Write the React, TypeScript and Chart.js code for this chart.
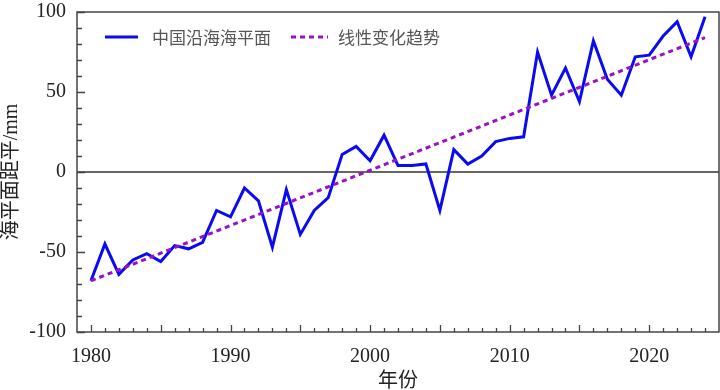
import React, { useEffect, useRef } from "react";
import { Chart, registerables } from "chart.js";

Chart.register(...registerables);

const years = [
  1980, 1981, 1982, 1983, 1984, 1985, 1986, 1987, 1988, 1989,
  1990, 1991, 1992, 1993, 1994, 1995, 1996, 1997, 1998, 1999,
  2000, 2001, 2002, 2003, 2004, 2005, 2006, 2007, 2008, 2009,
  2010, 2011, 2012, 2013, 2014, 2015, 2016, 2017, 2018, 2019,
  2020, 2021, 2022, 2023, 2024,
];
const seaLevel = [
  -68, -45, -64, -55, -51, -56, -46, -48, -44, -24,
  -28, -10, -18, -47, -11, -39, -24, -16, 11, 16,
  7, 23, 4, 4, 5, -24, 14, 5, 10, 19,
  21, 22, 75, 48, 65, 44, 82, 58, 48, 72,
  73, 85, 94, 72, 97,
];
const trendYears = [1980, 2024];
const trendValues = [-68, 84];
const xTickLabels = [1980, 1990, 2000, 2010, 2020];
const yTickLabels = [-100, -50, 0, 50, 100];

const seriesLabel = "中国沿海海平面";
const trendLabel = "线性变化趋势";
const blue = "#0b0bf0";
const purple = "#9a10c4";

const framePlugin = {
  id: "frame",
  beforeDatasetsDraw(chart: any) {
    const { ctx, chartArea } = chart;
    const { left, right, top, bottom } = chartArea;
    const xs = chart.scales.x;
    const ys = chart.scales.y;
    ctx.save();
    ctx.strokeStyle = "#333";
    ctx.lineWidth = 1.3;
    const y0 = ys.getPixelForValue(0);
    ctx.beginPath();
    ctx.moveTo(left, y0);
    ctx.lineTo(right, y0);
    ctx.stroke();
    ctx.strokeStyle = "#444";
    ctx.lineWidth = 1.5;
    ctx.strokeRect(left, top, right - left, bottom - top);
    ctx.lineWidth = 1.3;
    ctx.beginPath();
    years.forEach((yr) => {
      const px = Math.round(xs.getPixelForValue(yr)) + 0.5;
      const len = yr % 5 === 0 ? 7 : 4;
      ctx.moveTo(px, bottom);
      ctx.lineTo(px, bottom - len);
    });
    for (let v = -100; v <= 100; v += 10) {
      const py = Math.round(ys.getPixelForValue(v)) + 0.5;
      const len = v % 50 === 0 ? 8 : 5;
      ctx.moveTo(left, py);
      ctx.lineTo(left + len, py);
    }
    ctx.stroke();
    ctx.restore();
  },
  afterDraw(chart: any) {
    const { ctx, chartArea } = chart;
    const { left } = chartArea;
    const ds = chart.data.datasets;
    const ly = 37;
    ctx.save();
    ctx.lineWidth = 3;
    ctx.strokeStyle = ds[0].borderColor;
    ctx.beginPath();
    ctx.moveTo(left + 28, ly);
    ctx.lineTo(left + 61, ly);
    ctx.stroke();
    ctx.strokeStyle = ds[1].borderColor;
    ctx.setLineDash(ds[1].borderDash);
    ctx.beginPath();
    ctx.moveTo(left + 214, ly);
    ctx.lineTo(left + 251, ly);
    ctx.stroke();
    ctx.setLineDash([]);
    ctx.fillStyle = "#555";
    ctx.font = "17px 'Noto Sans CJK SC'";
    ctx.textBaseline = "middle";
    ctx.textAlign = "left";
    ctx.fillText(ds[0].label, left + 75, ly + 1);
    ctx.fillText(ds[1].label, left + 261, ly + 1);
    ctx.restore();
  },
};

export default function App() {
  const ref = useRef<HTMLCanvasElement>(null);
  useEffect(() => {
    if (!ref.current) return;
    const chart = new Chart(ref.current, {
      type: "line",
      data: {
        datasets: [
          {
            label: seriesLabel,
            data: seaLevel.map((v, i) => ({ x: years[i], y: v })),
            borderColor: blue,
            backgroundColor: blue,
            borderWidth: 3,
            pointRadius: 0,
            tension: 0,
            order: 1,
          },
          {
            label: trendLabel,
            data: trendValues.map((v, i) => ({ x: trendYears[i], y: v })),
            borderColor: purple,
            backgroundColor: purple,
            borderWidth: 3,
            borderDash: [5, 4],
            pointRadius: 0,
            tension: 0,
            order: 0,
          },
        ],
      },
      options: {
        animation: false,
        responsive: true,
        maintainAspectRatio: false,
        layout: { padding: { top: 12, right: 1, left: 0, bottom: 0 } },
        plugins: { legend: { display: false }, tooltip: { enabled: false } },
        scales: {
          x: {
            type: "linear",
            min: 1979,
            max: 2025,
            grid: { display: false, drawTicks: false },
            border: { display: false },
            afterBuildTicks: (s: any) => {
              s.ticks = xTickLabels.map((v) => ({ value: v }));
            },
            afterFit: (s: any) => {
              s.height = 58;
              s.paddingLeft = 0;
              s.paddingRight = 0;
              s.paddingTop = 0;
              s.paddingBottom = 0;
            },
            ticks: {
              padding: 13,
              maxRotation: 0,
              autoSkip: false,
              color: "#222",
              font: { family: "'Liberation Serif'", size: 20 },
              callback: (v: any) => String(v),
            },
            title: {
              display: true,
              text: "年份",
              color: "#222",
              padding: { top: 0, bottom: 0 },
              font: { family: "'Noto Sans CJK SC'", size: 20, lineHeight: 1.1 },
            },
          },
          y: {
            type: "linear",
            min: -100,
            max: 100,
            grid: { display: false, drawTicks: false },
            border: { display: false },
            afterBuildTicks: (s: any) => {
              s.ticks = yTickLabels.map((v) => ({ value: v }));
            },
            afterFit: (s: any) => {
              s.width = 77;
              s.paddingTop = 0;
              s.paddingBottom = 0;
              s.paddingLeft = 0;
              s.paddingRight = 0;
            },
            ticks: {
              padding: 11,
              color: "#222",
              font: { family: "'Liberation Serif'", size: 20 },
            },
            title: {
              display: true,
              text: "海平面距平/mm",
              color: "#222",
              padding: { top: 0, bottom: 0 },
              font: { family: "'Liberation Serif', 'Noto Sans CJK SC'", size: 20, lineHeight: 1.2 },
            },
          },
        },
      },
      plugins: [framePlugin],
    });
    return () => chart.destroy();
  }, []);
  return (
    <div style={{ position: "fixed", left: 0, top: 0, width: 720, height: 390, background: "#fff" }}>
      <canvas ref={ref} />
    </div>
  );
}
